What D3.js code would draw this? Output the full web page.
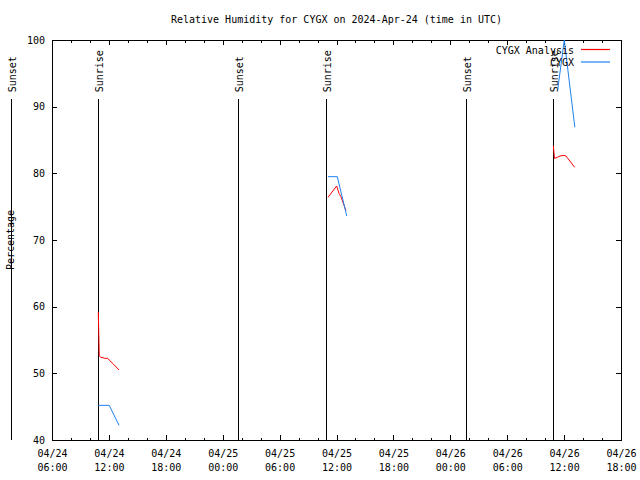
<!DOCTYPE html>
<html>
<head>
<meta charset="utf-8">
<script src="https://cdn.jsdelivr.net/npm/d3@7"></script>
<style>
  html, body { margin: 0; padding: 0; background: #fff; }
  svg { display: block; }
</style>
</head>
<body>
<div id="container"></div>
<script>
// data (times in UTC)
const analysisTimes = [
    '2024-04-24T10:53Z', '2024-04-24T10:59Z', '2024-04-24T11:10Z', '2024-04-24T11:35Z',
    '2024-04-24T11:52Z', '2024-04-24T12:02Z', '2024-04-24T12:28Z', '2024-04-24T13:04Z',
    '2024-04-25T11:06Z', '2024-04-25T12:01Z', '2024-04-25T12:16Z', '2024-04-25T12:28Z', '2024-04-25T13:00Z',
    '2024-04-26T10:52Z', '2024-04-26T10:59Z', '2024-04-26T11:17Z', '2024-04-26T11:34Z',
    '2024-04-26T11:59Z', '2024-04-26T12:12Z', '2024-04-26T13:07Z'
];
const analysisValues = [
    59.2, 52.6, 52.4, 52.25, 52.25, 52.0, 51.4, 50.5,
    76.4, 78.1, 77.0, 76.5, 74.4,
    84.15, 82.25, 82.4, 82.6, 82.7, 82.6, 80.9
];

const obsTimes = [
    '2024-04-24T10:53Z', '2024-04-24T12:02Z', '2024-04-24T13:04Z',
    '2024-04-25T11:06Z', '2024-04-25T12:05Z', '2024-04-25T13:05Z',
    '2024-04-26T11:20Z', '2024-04-26T12:01Z', '2024-04-26T13:08Z'
];
const obsValues = [
    45.2, 45.2, 42.2,
    79.5, 79.5, 73.6,
    92.6, 100, 86.9
];

const sunTimes = ['2024-04-24T01:41Z', '2024-04-24T10:51Z', '2024-04-25T01:37Z',
                  '2024-04-25T10:53Z', '2024-04-26T01:40Z', '2024-04-26T10:50Z'];
const sunLabels = ['Sunset', 'Sunrise', 'Sunset', 'Sunrise', 'Sunset', 'Sunrise'];

const xTickTimes = ['2024-04-24T06:00Z', '2024-04-24T12:00Z', '2024-04-24T18:00Z', '2024-04-25T00:00Z',
                    '2024-04-25T06:00Z', '2024-04-25T12:00Z', '2024-04-25T18:00Z', '2024-04-26T00:00Z',
                    '2024-04-26T06:00Z', '2024-04-26T12:00Z', '2024-04-26T18:00Z'];
const yTicks = [40, 50, 60, 70, 80, 90, 100];

const seriesNames = ['CYGX Analysis', 'CYGX'];
const seriesColors = ['#ff0000', '#1e82f0'];

const width = 640, height = 480;
const margin = {left: 52, right: 19, top: 40, bottom: 40};
const font = 'DejaVu Sans Mono, monospace';

let viz = d3.select('#container')
    .append('svg')
    .attr('width', width)
    .attr('height', height)
    .attr('font-family', font)
    .attr('font-size', 10);

let x = d3.scaleUtc()
    .domain([new Date(xTickTimes[0]), new Date(xTickTimes[xTickTimes.length - 1])])
    .range([margin.left, width - margin.right]);
let y = d3.scaleLinear()
    .domain([yTicks[0], yTicks[yTicks.length - 1]])
    .range([height - margin.bottom, margin.top]);

const fmtDay = d3.utcFormat('%m/%d');
const fmtHour = d3.utcFormat('%H:%M');
const minorTicks = d3.utcHour.every(2).range(x.domain()[0], d3.utcHour.offset(x.domain()[1], 1));

// title
viz.append('text')
    .attr('x', (margin.left + width - margin.right) / 2)
    .attr('y', 23)
    .attr('text-anchor', 'middle')
    .text('Relative Humidity for CYGX on 2024-Apr-24 (time in UTC)');

// y axis label
viz.append('text')
    .attr('transform', 'translate(14,240) rotate(-90)')
    .attr('text-anchor', 'middle')
    .text('Percentage');

// axes (ticks drawn inward, mirrored)
function tidy(g) {
    g.select('.domain').remove();
    g.selectAll('line').attr('stroke', '#000').attr('shape-rendering', 'crispEdges');
    g.selectAll('text').attr('font-family', font).attr('font-size', 10).attr('fill', '#000');
}
const bottomY = height - margin.bottom, rightX = width - margin.right;

viz.append('g').attr('transform', `translate(0,${bottomY})`)
    .call(d3.axisBottom(x).tickValues(minorTicks).tickSize(-2.5).tickFormat(''))
    .call(tidy);
viz.append('g').attr('transform', `translate(0,${margin.top})`)
    .call(d3.axisTop(x).tickValues(minorTicks).tickSize(-2.5).tickFormat(''))
    .call(tidy);
viz.append('g').attr('transform', `translate(0,${margin.top})`)
    .call(d3.axisTop(x).tickValues(xTickTimes.map(d => new Date(d))).tickSize(-5).tickFormat(''))
    .call(tidy);

let xAxis = viz.append('g').attr('transform', `translate(0,${bottomY})`)
    .call(d3.axisBottom(x).tickValues(xTickTimes.map(d => new Date(d))).tickSize(-5).tickPadding(0)
        .tickFormat(''))
    .call(tidy);
xAxis.selectAll('.tick').each(function(d) {
    let t = d3.select(this).append('text')
        .attr('text-anchor', 'middle')
        .attr('font-family', font).attr('font-size', 10).attr('fill', '#000');
    t.append('tspan').attr('x', 0).attr('y', 17).text(fmtDay(d));
    t.append('tspan').attr('x', 0).attr('y', 31).text(fmtHour(d));
});

viz.append('g').attr('transform', `translate(${margin.left},0)`)
    .call(d3.axisLeft(y).tickValues(yTicks).tickSize(-5).tickPadding(7))
    .call(tidy);
viz.append('g').attr('transform', `translate(${rightX},0)`)
    .call(d3.axisRight(y).tickValues(yTicks).tickSize(-5).tickFormat(''))
    .call(tidy);

// plot border
viz.append('rect')
    .attr('x', margin.left + 0.5).attr('y', margin.top + 0.5)
    .attr('width', rightX - margin.left).attr('height', bottomY - margin.top)
    .attr('fill', 'none').attr('stroke', '#000')
    .attr('shape-rendering', 'crispEdges');

// sunrise / sunset markers (not clipped, like gnuplot arrows)
const sunTop = 91.1;
let sun = viz.append('g').selectAll('.sun')
    .data(sunTimes.map((t, i) => ({time: new Date(t), label: sunLabels[i]})))
    .enter().append('g')
    .attr('class', 'sun')
    .attr('transform', d => `translate(${Math.round(x(d.time)) + 0.5},0)`);
sun.append('line')
    .attr('y1', y(sunTop)).attr('y2', y(40))
    .attr('stroke', '#000').attr('shape-rendering', 'crispEdges');
sun.append('text')
    .attr('transform', `translate(4,${y(sunTop) - 7}) rotate(-90)`)
    .text(d => d.label);

// data lines, broken where the gap is longer than a few hours
viz.append('clipPath').attr('id', 'plotClip').append('rect')
    .attr('x', margin.left).attr('y', margin.top)
    .attr('width', rightX - margin.left).attr('height', bottomY - margin.top);

function segments(times, values) {
    let pts = times.map((t, i) => ({time: new Date(t), value: values[i]}));
    let segs = [[]];
    pts.forEach((p, i) => {
        if (i > 0 && p.time - pts[i - 1].time > 3 * 3600e3) segs.push([]);
        segs[segs.length - 1].push(p);
    });
    return segs;
}
let line = d3.line().x(d => x(d.time)).y(d => y(d.value));
let plot = viz.append('g').attr('clip-path', 'url(#plotClip)');
[[analysisTimes, analysisValues], [obsTimes, obsValues]].forEach((s, k) => {
    plot.selectAll('.s' + k).data(segments(s[0], s[1]))
        .enter().append('path')
        .attr('class', 's' + k)
        .attr('d', line)
        .attr('fill', 'none')
        .attr('stroke', seriesColors[k])
        .attr('stroke-width', 1);
});

// legend
let legend = viz.append('g').selectAll('.legend').data(seriesNames)
    .enter().append('g')
    .attr('class', 'legend')
    .attr('transform', (d, i) => `translate(0,${49.5 + i * 12.5})`);
legend.append('text')
    .attr('x', 574).attr('y', 4)
    .attr('text-anchor', 'end')
    .text(d => d);
legend.append('line')
    .attr('x1', 581).attr('x2', 610)
    .attr('stroke', d => seriesColors[seriesNames.indexOf(d)])
    .attr('stroke-width', 1.2);
</script>
</body>
</html>
